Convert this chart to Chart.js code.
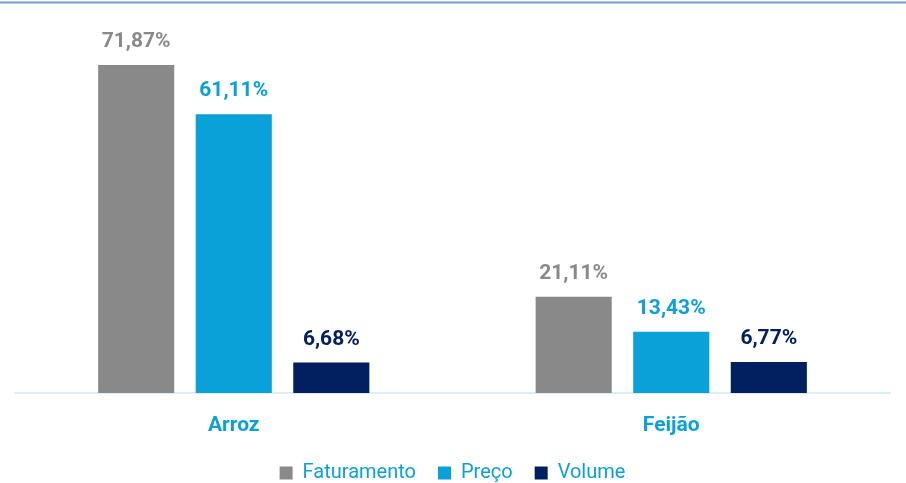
<!DOCTYPE html>
<html>
<head>
<meta charset="utf-8">
<script src="https://cdn.jsdelivr.net/npm/chart.js@4/dist/chart.umd.min.js"></script>
<style>
  html, body { margin: 0; padding: 0; background: #fff; }
  #wrap { width: 906px; height: 483px; position: relative; }
</style>
</head>
<body>
<div id="wrap"><canvas id="chart"></canvas></div>
<script>
// data
const categories = ['Arroz', 'Feijão'];
const faturamento = [71.87, 21.11];
const preco = [61.11, 13.43];
const volume = [6.68, 6.77];

const seriesNames = ['Faturamento', 'Preço', 'Volume'];
const seriesColors = ['#898989', '#0aa0d8', '#022060'];

// value labels on top of each bar
const barLabels = {
    id: 'barLabels',
    afterDatasetsDraw(chart) {
        const ctx = chart.ctx;
        ctx.save();
        ctx.font = 'bold 21px Roboto';
        ctx.textAlign = 'center';
        ctx.textBaseline = 'middle';
        chart.data.datasets.forEach((ds, i) => {
            const meta = chart.getDatasetMeta(i);
            ctx.fillStyle = ds.backgroundColor;
            meta.data.forEach((bar, j) => {
                const txt = ds.data[j].toFixed(2).replace('.', ',') + '%';
                ctx.fillText(txt, bar.x, bar.y - 23);
            });
        });
        ctx.restore();
    }
};

// thin blue rule at the top of the picture
const topRule = {
    id: 'topRule',
    beforeDraw(chart) {
        const ctx = chart.ctx;
        ctx.save();
        ctx.strokeStyle = '#6f9be0';
        ctx.lineWidth = 2;
        ctx.beginPath();
        ctx.moveTo(0, 2.5);
        ctx.lineTo(chart.width, 2.5);
        ctx.stroke();
        ctx.restore();
    }
};

const ctx = document.getElementById('chart').getContext('2d');
const chart = new Chart(ctx, {
    type: 'bar',
    data: {
        labels: categories,
        datasets: [faturamento, preco, volume].map((vals, i) => ({
            label: seriesNames[i],
            data: vals,
            backgroundColor: seriesColors[i],
            barPercentage: 0.78,
            categoryPercentage: 0.669
        }))
    },
    options: {
        responsive: true,
        maintainAspectRatio: false,
        animation: false,
        events: [],
        layout: { padding: { top: 28, left: 15, right: 16, bottom: 0 } },
        scales: {
            x: {
                grid: { display: false, drawTicks: false },
                border: { display: true, color: '#d9eef8', width: 2 },
                ticks: {
                    color: '#0aa0d8',
                    font: { family: 'Roboto', size: 21, weight: 'bold' },
                    padding: 20
                },
                afterFit(scale) { scale.height = 48; }
            },
            y: {
                display: false,
                min: 0,
                max: 80
            }
        },
        plugins: {
            legend: {
                position: 'bottom',
                maxHeight: 42,
                labels: {
                    boxWidth: 13,
                    boxHeight: 13,
                    padding: 22,
                    color: '#0aa0d8',
                    font: { family: 'Roboto', size: 20 }
                }
            },
            tooltip: { enabled: false }
        }
    },
    plugins: [barLabels, topRule]
});
</script>
</body>
</html>
